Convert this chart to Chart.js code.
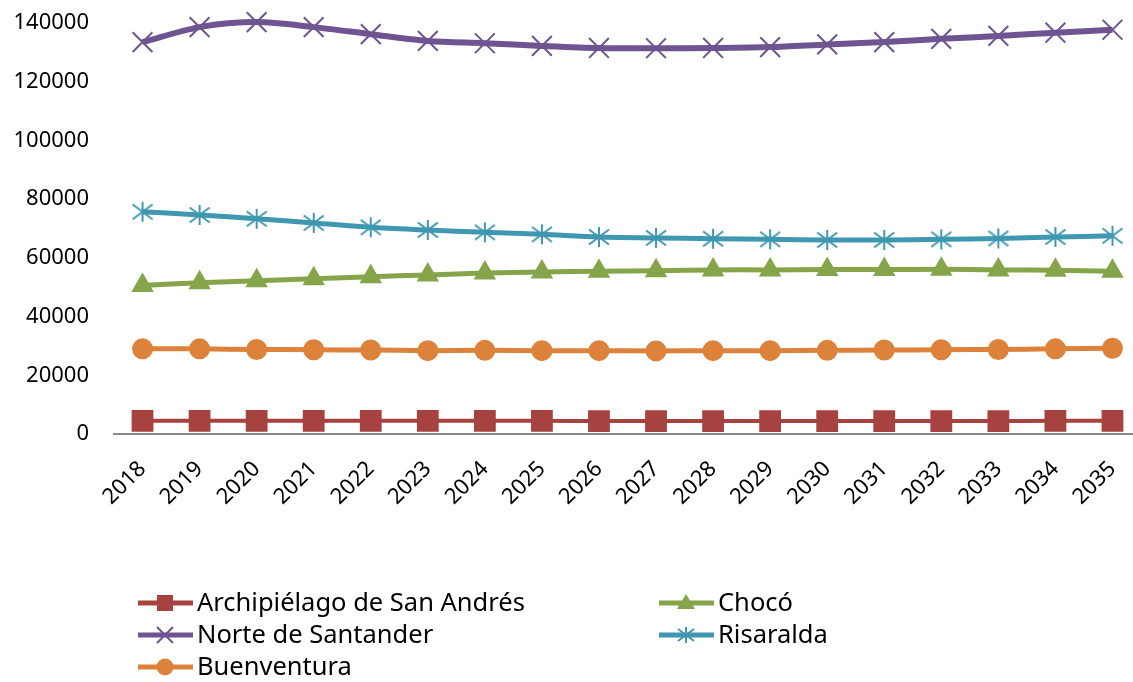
<!DOCTYPE html>
<html>
<head>
<meta charset="utf-8">
<script src="https://cdn.jsdelivr.net/npm/chart.js@4/dist/chart.umd.min.js"></script>
<style>
    html, body { margin: 0; padding: 0; background: #fff; overflow: hidden; }
    #wrap { width: 1157px; height: 682px; }
</style>
</head>
<body>
<div id="wrap"><canvas id="chart" width="1157" height="682"></canvas></div>
<script>
const years = ['2018', '2019', '2020', '2021', '2022', '2023', '2024', '2025', '2026',
    '2027', '2028', '2029', '2030', '2031', '2032', '2033', '2034', '2035'];
const seriesNames = ['Archipiélago de San Andrés', 'Chocó', 'Norte de Santander', 'Risaralda', 'Buenventura'];
const sanAndres = [4500, 4500, 4500, 4500, 4500, 4500, 4500, 4500, 4400, 4400, 4400, 4400, 4400, 4400, 4400, 4400, 4500, 4500];
const choco = [50600, 51500, 52200, 52900, 53600, 54200, 54800, 55200, 55400, 55600, 55900, 55900, 56000, 56000, 56100, 55900, 55800, 55400];
const norteSantander = [133500, 138600, 140300, 138600, 136200, 133900, 133100, 132200, 131500, 131400, 131500, 131800, 132700, 133500, 134600, 135600, 136700, 137700];
const risaralda = [75700, 74600, 73300, 71900, 70400, 69500, 68700, 68000, 67100, 66800, 66500, 66300, 66100, 66100, 66300, 66600, 67100, 67500];
const buenventura = [29000, 29000, 28800, 28700, 28600, 28400, 28500, 28400, 28400, 28300, 28400, 28400, 28500, 28600, 28700, 28800, 29000, 29200];
const yTicks = [0, 20000, 40000, 60000, 80000, 100000, 120000, 140000];

const colors = ['#A64340', '#86A44A', '#6E5491', '#3F97B0', '#DD823A'];
const FONT = '"Noto Sans", "Open Sans", sans-serif';

// asterisk marker (vertical + diagonals) for Risaralda
function makeAsterisk(color, half, lw) {
    const c = document.createElement('canvas');
    c.width = c.height = half * 2 + 4;
    const g = c.getContext('2d');
    const m = c.width / 2;
    g.strokeStyle = color;
    g.lineWidth = lw;
    g.beginPath();
    g.moveTo(m, m - half); g.lineTo(m, m + half);
    g.moveTo(m - half, m - half * 0.75); g.lineTo(m + half, m + half * 0.75);
    g.moveTo(m - half, m + half * 0.75); g.lineTo(m + half, m - half * 0.75);
    g.stroke();
    return c;
}
const asterisk = makeAsterisk(colors[3], 10, 2);

function series(i, data, style, radius, width) {
    return {
        label: seriesNames[i],
        data: data,
        borderColor: colors[i],
        backgroundColor: colors[i],
        borderWidth: width,
        tension: 0.3,
        pointStyle: style,
        pointRadius: radius,
        pointHoverRadius: radius,
        pointBorderWidth: 2,
        pointBackgroundColor: colors[i],
        pointBorderColor: colors[i],
        clip: false
    };
}

// legend drawn by hand: line + marker + text, two columns like the original
const legendSlots = [[138, 603], [659, 603], [138, 635], [659, 635], [138, 667]];
function legendMarker(ctx, i, x, y) {
    ctx.fillStyle = colors[i];
    ctx.strokeStyle = colors[i];
    ctx.beginPath();
    if (i === 0) {
        ctx.fillRect(x - 8, y - 8, 16, 16);
    } else if (i === 1) {
        ctx.moveTo(x, y - 9); ctx.lineTo(x + 9, y + 6); ctx.lineTo(x - 9, y + 6); ctx.closePath(); ctx.fill();
    } else if (i === 2) {
        ctx.lineWidth = 2;
        ctx.moveTo(x - 8, y - 8); ctx.lineTo(x + 8, y + 8);
        ctx.moveTo(x - 8, y + 8); ctx.lineTo(x + 8, y - 8); ctx.stroke();
    } else if (i === 3) {
        ctx.drawImage(makeAsterisk(colors[3], 8, 2), x - 10, y - 10);
    } else {
        ctx.arc(x, y, 8.5, 0, Math.PI * 2); ctx.fill();
    }
}
const handLegend = {
    id: 'handLegend',
    afterDraw(chart) {
        const ctx = chart.ctx;
        ctx.save();
        legendSlots.forEach(([x, y], i) => {
            ctx.strokeStyle = colors[i];
            ctx.lineWidth = 5;
            ctx.beginPath();
            ctx.moveTo(x, y); ctx.lineTo(x + 55, y);
            ctx.stroke();
            legendMarker(ctx, i, x + 27, y);
            ctx.fillStyle = '#000';
            ctx.font = '25.5px ' + FONT;
            ctx.textBaseline = 'middle';
            ctx.fillText(seriesNames[i], x + 59, y + 1);
        });
        ctx.restore();
    }
};

new Chart(document.getElementById('chart'), {
    type: 'line',
    data: {
        labels: years,
        datasets: [
            series(0, sanAndres, 'rect', 14, 4),
            series(1, choco, 'triangle', 11, 5),
            series(2, norteSantander, 'crossRot', 14, 6),
            series(3, risaralda, asterisk, 10, 5),
            series(4, buenventura, 'circle', 9.5, 5)
        ]
    },
    options: {
        responsive: false,
        animation: false,
        layout: { padding: { top: 23, right: 1, left: 0, bottom: 0 } },
        plugins: { legend: { display: false }, tooltip: { enabled: false } },
        scales: {
            x: {
                offset: true,
                grid: { display: false, drawTicks: false },
                border: { display: true, color: '#888888', width: 2 },
                ticks: {
                    autoSkip: false, maxRotation: 45, minRotation: 45, padding: 22,
                    color: '#000', font: { family: FONT, size: 22 }
                },
                afterFit: s => { s.height = 248; s.paddingLeft = 0; s.paddingRight = 0; }
            },
            y: {
                min: 0, max: 140000,
                afterBuildTicks: s => { s.ticks = yTicks.map(v => ({ value: v })); },
                grid: { display: false, drawTicks: false },
                border: { display: false },
                ticks: {
                    padding: 25, color: '#000', font: { family: FONT, size: 22 },
                    callback: v => String(v)
                },
                afterFit: s => { s.width = 114; s.paddingTop = 0; s.paddingBottom = 0; }
            }
        }
    },
    plugins: [handLegend]
});
</script>
</body>
</html>
